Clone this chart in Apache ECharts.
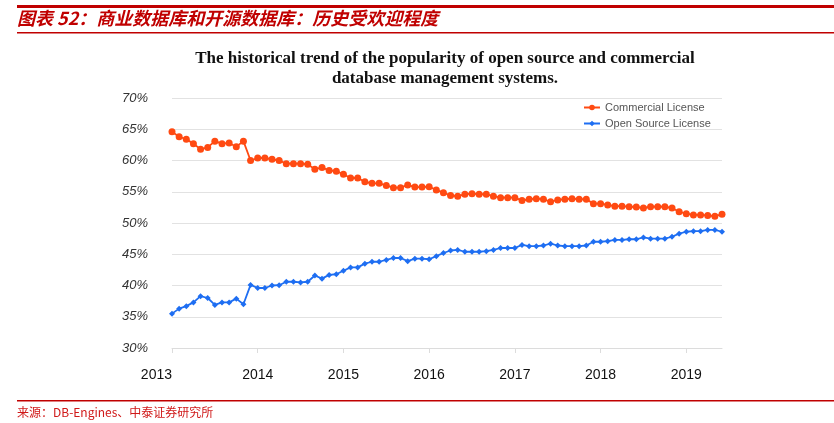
<!DOCTYPE html>
<html>
<head>
<meta charset="utf-8">
<script src="https://cdn.jsdelivr.net/npm/echarts@6/dist/echarts.min.js"></script>
<style>
  html, body { margin: 0; padding: 0; background: #fff; }
  #chart { width: 834px; height: 423px; }
</style>
</head>
<body>
<div id="chart"></div>
<script>
// years shown on the x axis, one point per month from 2013-01 to 2019-06
const years = ['2013', '2014', '2015', '2016', '2017', '2018', '2019']
const lastYearMonths = 6

// popularity share (%)
const commercial = [
  64.6, 63.8, 63.4, 62.7, 61.8, 62.1, 63.1, 62.7, 62.8, 62.2, 63.1, 60.0,
  60.4, 60.4, 60.2, 60.0, 59.5, 59.5, 59.5, 59.4, 58.6, 58.9, 58.4, 58.3,
  57.8, 57.2, 57.2, 56.6, 56.35, 56.35, 56.0, 55.65, 55.65, 56.1, 55.75, 55.75,
  55.8, 55.3, 54.85, 54.4, 54.3, 54.6, 54.7, 54.6, 54.6, 54.3, 54.05, 54.05,
  54.05, 53.6, 53.8, 53.9, 53.8, 53.4, 53.7, 53.8, 53.9, 53.8, 53.8, 53.1,
  53.1, 52.9, 52.7, 52.7, 52.6, 52.55, 52.4, 52.6, 52.6, 52.6, 52.4, 51.8,
  51.5, 51.3, 51.3, 51.2, 51.1, 51.4
]
const openSource = [
  35.5, 36.3, 36.7, 37.3, 38.3, 38.0, 36.9, 37.3, 37.3, 37.9, 37.0, 40.1,
  39.6, 39.6, 40.0, 40.05, 40.6, 40.6, 40.5, 40.6, 41.6, 41.1, 41.7, 41.8,
  42.35, 42.9, 42.9, 43.5, 43.8, 43.8, 44.1, 44.4, 44.4, 43.9, 44.3, 44.3,
  44.2, 44.7, 45.2, 45.6, 45.7, 45.4, 45.4, 45.4, 45.5, 45.7, 46.0, 46.0,
  46.0, 46.5, 46.3, 46.3, 46.4, 46.7, 46.4, 46.3, 46.3, 46.3, 46.4, 47.0,
  47.0, 47.1, 47.3, 47.3, 47.4, 47.4, 47.7, 47.5, 47.5, 47.5, 47.8, 48.3,
  48.6, 48.7, 48.7, 48.9, 48.9, 48.6
]

const months = []
years.forEach((y, i) => {
  const n = i === years.length - 1 ? lastYearMonths : 12
  for (let m = 1; m <= n; m++) {
    months.push(y + '-' + (m < 10 ? '0' + m : m))
  }
})

const RED = '#C00000'
const chart = echarts.init(document.getElementById('chart'))

chart.setOption({
  animation: false,
  title: {
    text: 'The historical trend of the popularity of open source and commercial\ndatabase management systems.',
    left: 440,
    top: 44,
    textAlign: 'center',
    textStyle: {
      fontFamily: 'Liberation Serif',
      fontWeight: 'bold',
      fontSize: 17,
      lineHeight: 20,
      color: '#111'
    }
  },
  legend: {
    orient: 'vertical',
    left: 578,
    top: 97,
    itemWidth: 16,
    itemHeight: 7,
    itemGap: 5,
    textStyle: { fontFamily: 'Liberation Sans', fontSize: 11, color: '#555' },
    data: ['Commercial License', 'Open Source License']
  },
  grid: { left: 172, right: 112, top: 98, bottom: 75 },
  xAxis: {
    type: 'category',
    boundaryGap: false,
    data: months,
    axisLine: { lineStyle: { color: '#dcdcdc' } },
    axisTick: {
      interval: (idx) => idx % 12 === 0,
      length: 5,
      lineStyle: { color: '#dcdcdc' }
    },
    axisLabel: {
      interval: (idx) => idx % 12 === 0,
      formatter: (v) => v.slice(0, 4),
      margin: 20,
      fontFamily: 'Liberation Sans',
      fontSize: 14,
      color: '#111',
      alignMinLabel: 'right'
    }
  },
  yAxis: {
    type: 'value',
    min: 30,
    max: 70,
    interval: 5,
    axisLine: { show: false },
    axisTick: { show: false },
    axisLabel: {
      formatter: '{value}%',
      margin: 24,
      fontFamily: 'Liberation Sans',
      fontStyle: 'italic',
      fontSize: 13,
      color: '#333'
    },
    splitLine: { lineStyle: { color: '#e2e2e2' } }
  },
  series: [
    {
      name: 'Commercial License',
      type: 'line',
      data: commercial,
      symbol: 'circle',
      symbolSize: 7,
      showAllSymbol: true,
      itemStyle: { color: '#FF4A12' },
      lineStyle: { color: '#FF4A12', width: 1.8 }
    },
    {
      name: 'Open Source License',
      type: 'line',
      data: openSource,
      symbol: 'diamond',
      symbolSize: 6,
      showAllSymbol: true,
      itemStyle: { color: '#1E6EF2' },
      lineStyle: { color: '#1E6EF2', width: 1.8 }
    }
  ],
  graphic: [
    { type: 'rect', shape: { x: 17, y: 5, width: 817, height: 3 }, style: { fill: RED } },
    {
      type: 'text',
      x: 17,
      y: 9,
      style: {
        text: '图表 52：商业数据库和开源数据库：历史受欢迎程度',
        fontFamily: 'Noto Sans CJK SC',
        fontWeight: 'bold',
        fontStyle: 'italic',
        fontSize: 18,
        fill: RED
      }
    },
    { type: 'rect', shape: { x: 17, y: 32, width: 817, height: 1.5 }, style: { fill: RED } },
    { type: 'rect', shape: { x: 17, y: 400, width: 817, height: 1.5 }, style: { fill: RED } },
    {
      type: 'text',
      x: 17,
      y: 406,
      style: {
        text: '来源：DB-Engines、中泰证券研究所',
        fontFamily: 'Noto Sans CJK SC',
        fontSize: 12,
        fill: '#D01818'
      }
    }
  ]
})
</script>
</body>
</html>
